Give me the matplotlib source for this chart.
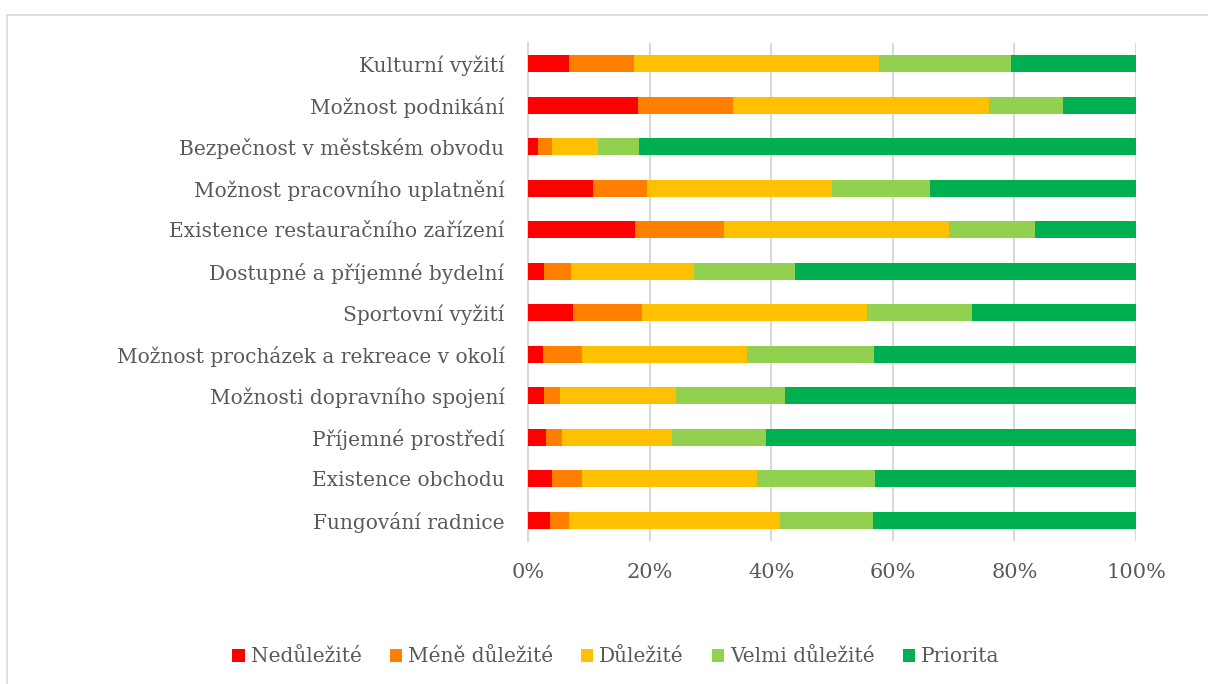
import matplotlib

matplotlib.use("Agg")
import matplotlib.pyplot as plt
from matplotlib.patches import Rectangle
from matplotlib.ticker import PercentFormatter

# categories listed top to bottom as in the chart
categories = [
    "Kulturní vyžití",
    "Možnost podnikání",
    "Bezpečnost v městském obvodu",
    "Možnost pracovního uplatnění",
    "Existence restauračního zařízení",
    "Dostupné a příjemné bydelní",
    "Sportovní vyžití",
    "Možnost procházek a rekreace v okolí",
    "Možnosti dopravního spojení",
    "Příjemné prostředí",
    "Existence obchodu",
    "Fungování radnice",
]

series_names = ["Nedůležité", "Méně důležité", "Důležité", "Velmi důležité", "Priorita"]

# shares in % per category (same order as categories)
nedulezite = [6.7, 18.1, 1.7, 10.7, 17.6, 2.7, 7.4, 2.5, 2.7, 3.0, 4.0, 3.7]
mene_dulezite = [10.7, 15.6, 2.3, 8.8, 14.6, 4.4, 11.4, 6.3, 2.5, 2.6, 4.9, 3.0]
dulezite = [40.4, 42.1, 7.5, 30.5, 37.0, 20.2, 36.9, 27.2, 19.1, 18.1, 28.8, 34.7]
velmi_dulezite = [21.6, 12.2, 6.8, 16.2, 14.2, 16.6, 17.3, 20.9, 17.9, 15.5, 19.4, 15.3]
priorita = [20.6, 12.0, 81.7, 33.8, 16.6, 56.1, 27.0, 43.1, 57.8, 60.8, 42.9, 43.3]

colors = ["#FF0000", "#FF8000", "#FFC000", "#92D050", "#00B050"]
text_color = "#595959"
grid_color = "#D9D9D9"

plt.rcParams["font.family"] = ["DejaVu Serif"]

fig = plt.figure(figsize=(12.08, 6.84), dpi=100)
ax = fig.add_axes([528 / 1208, 1 - 541 / 684, 608 / 1208, 498 / 684])

# light frame round the chart area, like the Excel chart border
fig.patches.append(
    Rectangle((7.5 / 1208, -0.1), 1.2, (684 - 14.5) / 684 + 0.1,
              transform=fig.transFigure, fill=False, edgecolor=grid_color, linewidth=1.2)
)

y = list(range(len(categories)))
left = [0.0] * len(categories)
for name, vals, col in zip(series_names,
                           [nedulezite, mene_dulezite, dulezite, velmi_dulezite, priorita],
                           colors):
    ax.barh(y, vals, left=left, height=0.4, color=col, label=name, zorder=3)
    left = [a + b for a, b in zip(left, vals)]

ax.set_ylim(len(categories) - 0.5, -0.5)
ax.set_xlim(0, 100)
ax.set_yticks(y)
ax.set_yticklabels(categories)
ax.set_xticks([0, 20, 40, 60, 80, 100])
ax.xaxis.set_major_formatter(PercentFormatter(decimals=0))

ax.grid(axis="x", color=grid_color, linewidth=1.5, zorder=0)
for side in ["top", "right", "bottom"]:
    ax.spines[side].set_visible(False)
ax.spines["left"].set_color(grid_color)
ax.spines["left"].set_linewidth(1.5)

ax.tick_params(axis="y", length=0, pad=17, labelsize=14.5, labelcolor=text_color)
ax.tick_params(axis="x", length=0, pad=16, labelsize=15, labelcolor=text_color)

ax.legend(loc="center", bbox_to_anchor=(616 / 1208, 1 - 657 / 684),
          bbox_transform=fig.transFigure, ncol=5, frameon=False,
          fontsize=14.5, labelcolor=text_color, handlelength=0.6, handleheight=0.6,
          handletextpad=0.3, columnspacing=1.4)

fig.savefig("out.png", dpi=100)
